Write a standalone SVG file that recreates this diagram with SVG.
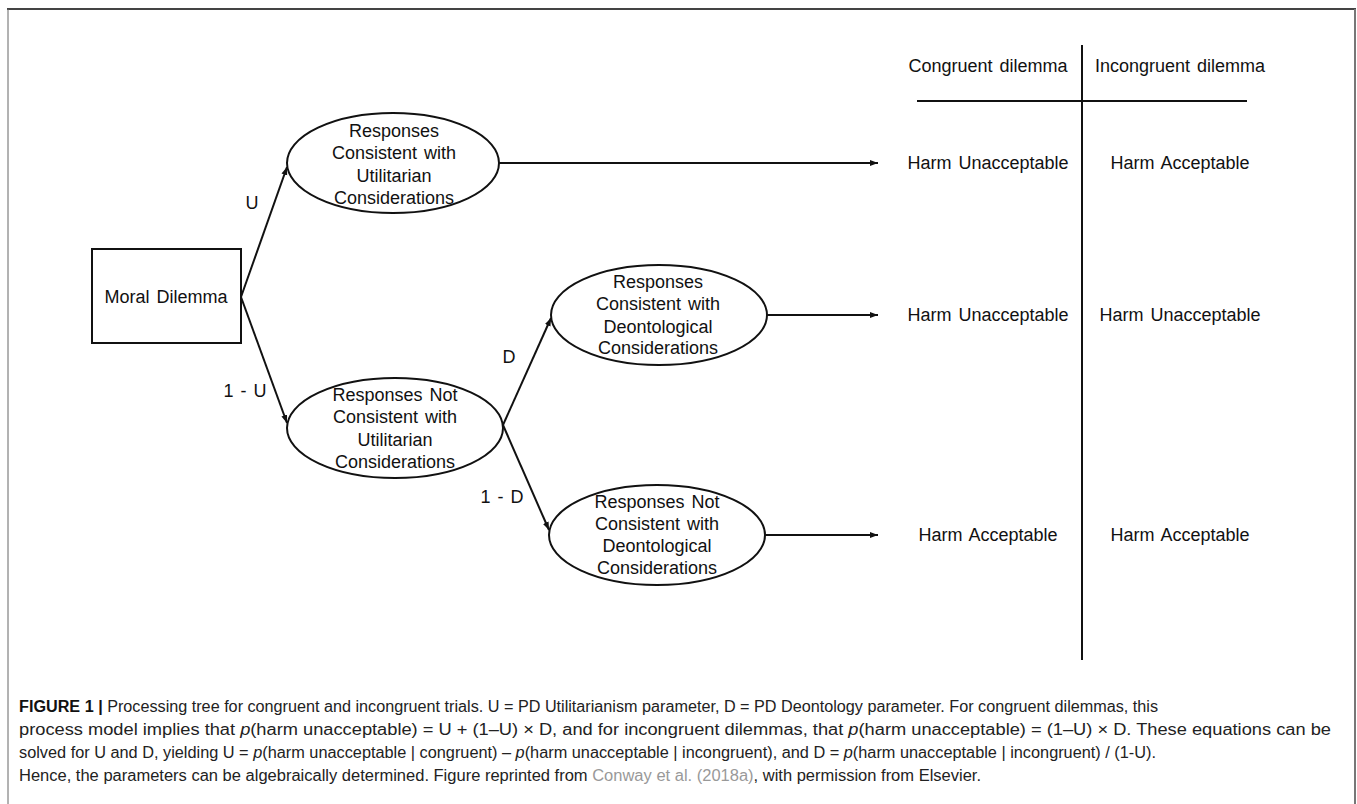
<svg xmlns="http://www.w3.org/2000/svg" width="1357" height="804" viewBox="0 0 1357 804">
<style>
.n{font-family:"Liberation Sans",Arial,sans-serif;font-size:18px;fill:#111;text-anchor:middle;word-spacing:2px}
.shape{fill:#fff;stroke:#111;stroke-width:2}
.edge{stroke:#111;stroke-width:2;fill:none}
.cap{font-family:"Liberation Sans",Arial,sans-serif;font-size:16px;fill:#222}
</style>
<defs>
<marker id="ah" markerWidth="9" markerHeight="7" refX="8" refY="3" orient="auto" markerUnits="userSpaceOnUse">
<path d="M0,0 L8,3 L0,6 z" fill="#111"/>
</marker>
</defs>
<rect width="1357" height="804" fill="#fff"/>
<g id="frame">
<line x1="7" y1="9" x2="1356" y2="9" stroke="#444" stroke-width="2"/>
<line x1="8" y1="9" x2="8" y2="804" stroke="#666" stroke-width="1"/>
<line x1="1355" y1="9" x2="1355" y2="804" stroke="#777" stroke-width="2"/>
</g>
<g id="connectors">
<line class="edge" x1="241" y1="297" x2="287" y2="167" marker-end="url(#ah)"/>
<line class="edge" x1="241" y1="297" x2="287" y2="423" marker-end="url(#ah)"/>
<line class="edge" x1="503" y1="425" x2="551" y2="318" marker-end="url(#ah)"/>
<line class="edge" x1="503" y1="425" x2="549" y2="530" marker-end="url(#ah)"/>
<line class="edge" x1="499" y1="163" x2="878" y2="163" marker-end="url(#ah)"/>
<line class="edge" x1="767" y1="315" x2="878" y2="315" marker-end="url(#ah)"/>
<line class="edge" x1="765" y1="535" x2="878" y2="535" marker-end="url(#ah)"/>
<text class="n" x="252" y="209">U</text>
<text class="n" x="245" y="397">1 - U</text>
<text class="n" x="509" y="363">D</text>
<text class="n" x="502" y="503">1 - D</text>
</g>
<g id="moral-dilemma">
<rect class="shape" x="92" y="249" width="149" height="94"/>
<text class="n" x="166" y="303">Moral Dilemma</text>
</g>
<g id="util-consistent">
<ellipse class="shape" cx="393" cy="163" rx="106" ry="50"/>
<text class="n" x="394" y="137">Responses</text>
<text class="n" x="394" y="159">Consistent with</text>
<text class="n" x="394" y="182">Utilitarian</text>
<text class="n" x="394" y="204">Considerations</text>
</g>
<g id="util-not-consistent">
<ellipse class="shape" cx="395" cy="428" rx="108" ry="50"/>
<text class="n" x="395" y="401">Responses Not</text>
<text class="n" x="395" y="423">Consistent with</text>
<text class="n" x="395" y="446">Utilitarian</text>
<text class="n" x="395" y="468">Considerations</text>
</g>
<g id="deont-consistent">
<ellipse class="shape" cx="659" cy="315" rx="108" ry="50"/>
<text class="n" x="658" y="288">Responses</text>
<text class="n" x="658" y="310">Consistent with</text>
<text class="n" x="658" y="333">Deontological</text>
<text class="n" x="658" y="354">Considerations</text>
</g>
<g id="deont-not-consistent">
<ellipse class="shape" cx="657" cy="535" rx="108" ry="50"/>
<text class="n" x="657" y="508">Responses Not</text>
<text class="n" x="657" y="530">Consistent with</text>
<text class="n" x="657" y="552">Deontological</text>
<text class="n" x="657" y="574">Considerations</text>
</g>
<g id="outcome-table">
<line class="edge" x1="1082" y1="45" x2="1082" y2="660"/>
<line class="edge" x1="917" y1="101" x2="1247" y2="101"/>
<text class="n" x="988" y="72">Congruent dilemma</text>
<text class="n" x="1180" y="72">Incongruent dilemma</text>
<text class="n" x="988" y="169">Harm Unacceptable</text>
<text class="n" x="1180" y="169">Harm Acceptable</text>
<text class="n" x="988" y="321">Harm Unacceptable</text>
<text class="n" x="1180" y="321">Harm Unacceptable</text>
<text class="n" x="988" y="541">Harm Acceptable</text>
<text class="n" x="1180" y="541">Harm Acceptable</text>
</g>
<g id="caption">
<text class="cap" x="19" y="712" textLength="1139" lengthAdjust="spacingAndGlyphs"><tspan font-weight="bold" fill="#111">FIGURE 1 |</tspan> Processing tree for congruent and incongruent trials. U = PD Utilitarianism parameter, D = PD Deontology parameter. For congruent dilemmas, this</text>
<text class="cap" x="19" y="735" textLength="1312" lengthAdjust="spacingAndGlyphs">process model implies that <tspan font-style="italic">p</tspan>(harm unacceptable) = U + (1–U) × D, and for incongruent dilemmas, that <tspan font-style="italic">p</tspan>(harm unacceptable) = (1–U)  × D. These equations can be</text>
<text class="cap" x="19" y="758" textLength="1137" lengthAdjust="spacingAndGlyphs">solved for U and D, yielding U = <tspan font-style="italic">p</tspan>(harm unacceptable | congruent) – <tspan font-style="italic">p</tspan>(harm unacceptable | incongruent), and D = <tspan font-style="italic">p</tspan>(harm unacceptable | incongruent) / (1-U).</text>
<text class="cap" x="19" y="781" textLength="962" lengthAdjust="spacingAndGlyphs">Hence, the parameters can be algebraically determined. Figure reprinted from <tspan fill="#999">Conway et al. (2018a)</tspan>, with permission from Elsevier.</text>
</g>
</svg>
